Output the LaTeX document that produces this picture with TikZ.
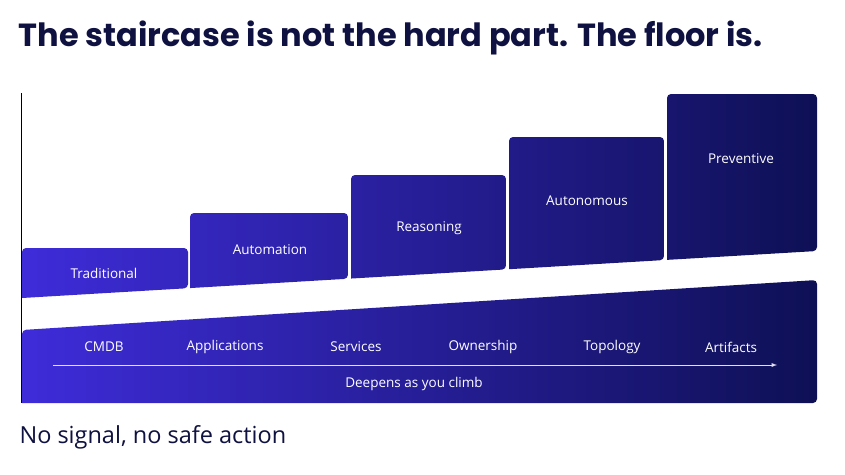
\documentclass[tikz,border=0pt]{standalone}
\usepackage{fontspec}
\setmainfont{Open Sans}
\newfontfamily\titlefont{Poppins}
\begin{document}
\begin{tikzpicture}[x=1pt,y=-1pt,
  lbl/.style={text=white,font=\fontsize{13.5}{15}\selectfont},
  ]
\definecolor{gl}{RGB}{62,44,217}
\definecolor{gr}{RGB}{14,16,85}
\definecolor{navy}{RGB}{15,17,64}
\useasboundingbox (0,0) rectangle (845,474);
\fill[white] (0,0) rectangle (845,474);
\newcommand{\gradfill}[1]{\begin{scope}\clip #1; \shade[left color=gl,right color=gr] (22,80) rectangle (817,403);\end{scope}}
% steps: bottom line y = 298 - 0.05912*(x-22)
\gradfill{[rounded corners=4pt] (22,298) -- (22,248) -- (188,248) -- (188,{298-0.05912*166}) [sharp corners] -- cycle}
\gradfill{[rounded corners=4pt] (190,{298-0.05912*168}) -- (190,213) -- (348,213) -- (348,{298-0.05912*326}) [sharp corners] -- cycle}
\gradfill{[rounded corners=4pt] (351,{298-0.05912*329}) -- (351,175) -- (506,175) -- (506,{298-0.05912*484}) [sharp corners] -- cycle}
\gradfill{[rounded corners=4pt] (509,{298-0.05912*487}) -- (509,137) -- (664,137) -- (664,{298-0.05912*642}) [sharp corners] -- cycle}
\gradfill{[rounded corners=4pt] (667,{298-0.05912*645}) -- (667,94) -- (817,94) -- (817,251) [sharp corners] -- cycle}
\gradfill{[rounded corners=4pt] (22,403) -- (22,330) -- (817,280) -- (817,403) [sharp corners] -- cycle}
\draw[black,line width=0.8pt] (21.5,93) coordinate (ax) -- (21.5,403) coordinate (ao);
\node[lbl] (s1) at (104,273) {Traditional};
\node[lbl] (s2) at (270,250) {Automation};
\node[lbl] (s3) at (429,228) {Reasoning};
\node[lbl] (s4) at (587,201) {Autonomous};
\node[lbl] (s5) at (741,159) {Preventive};
\node[lbl] (f1) at (104,347) {CMDB};
\node[lbl] (f2) at (225,347) {Applications};
\node[lbl] (f3) at (356,347) {Services};
\node[lbl] (f4) at (483,347) {Ownership};
\node[lbl] (f5) at (612,347) {Topology};
\node[lbl] (f6) at (731,347) {Artifacts};
\coordinate (a1) at (53,365); \coordinate (a2) at (777,365);
\draw[white!85!gl,line width=0.9pt,-latex] (a1) -- (a2);
\node[lbl] (dp) at (414,384) {Deepens as you climb};
\node[anchor=west,text=navy,font=\titlefont\fontsize{32}{36}\selectfont\bfseries] (t) at (15,38) {The staircase is not the hard part. The floor is.};
\node[anchor=west,text=navy,font=\fontsize{23.5}{27}\selectfont] (ns) at (16,437) {No signal, no safe action};
\end{tikzpicture}
\end{document}
